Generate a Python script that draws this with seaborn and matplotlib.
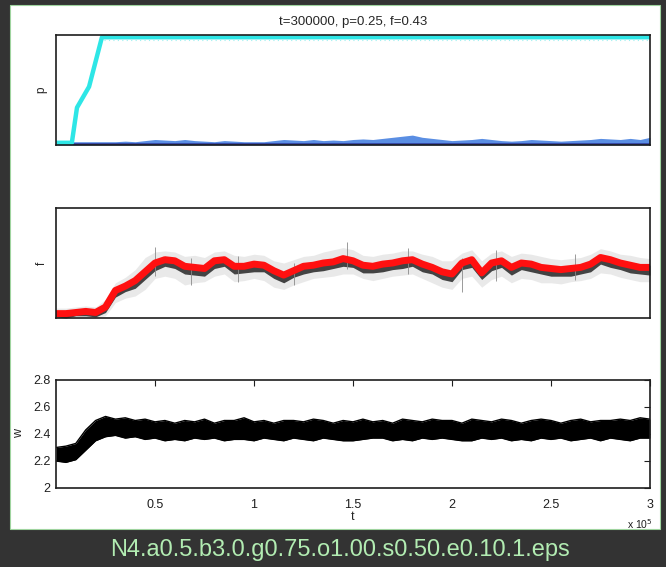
import numpy as np
import pandas as pd
import matplotlib
matplotlib.use("Agg")
import matplotlib.pyplot as plt
import seaborn as sns
from matplotlib.patches import Rectangle

# ---------------- data (time in units of 1e5) ----------------
# population shares p: one strategy takes over, the rest stay near zero
p_cyan_t = [0.0, 0.08, 0.106, 0.167, 0.232, 3.0]
p_cyan = [0.02, 0.02, 0.34, 0.53, 0.98, 0.98]

p_blue_t = np.linspace(0, 3, 61)
p_blue = [0.03, 0.03, 0.03, 0.03, 0.03, 0.03, 0.03, 0.035, 0.03, 0.04,
          0.05, 0.045, 0.04, 0.05, 0.04, 0.035, 0.03, 0.04, 0.035, 0.03,
          0.03, 0.03, 0.04, 0.05, 0.045, 0.04, 0.05, 0.04, 0.045, 0.04,
          0.05, 0.055, 0.05, 0.06, 0.07, 0.08, 0.09, 0.07, 0.06, 0.05,
          0.04, 0.045, 0.05, 0.06, 0.05, 0.04, 0.035, 0.04, 0.05, 0.045,
          0.04, 0.035, 0.04, 0.045, 0.05, 0.06, 0.055, 0.05, 0.06, 0.05,
          0.07]

# f: running mean (red) with spread of the raw samples (black / grey)
f_t = np.linspace(0, 3, 61)
f_mean = [0.04, 0.04, 0.05, 0.06, 0.05, 0.10, 0.25, 0.29, 0.34, 0.42,
          0.50, 0.53, 0.52, 0.47, 0.46, 0.45, 0.52, 0.53, 0.47, 0.47,
          0.49, 0.48, 0.43, 0.39, 0.43, 0.47, 0.48, 0.50, 0.51, 0.54,
          0.52, 0.48, 0.47, 0.49, 0.50, 0.52, 0.53, 0.49, 0.46, 0.42,
          0.40, 0.50, 0.53, 0.41, 0.50, 0.52, 0.46, 0.50, 0.49, 0.46,
          0.45, 0.44, 0.45, 0.46, 0.49, 0.55, 0.53, 0.50, 0.48, 0.46,
          0.46]
f_lo = [0.01, 0.00, 0.02, 0.02, 0.01, 0.05, 0.19, 0.24, 0.27, 0.35,
        0.43, 0.47, 0.45, 0.40, 0.39, 0.38, 0.45, 0.47, 0.40, 0.41,
        0.42, 0.42, 0.36, 0.32, 0.37, 0.40, 0.42, 0.43, 0.45, 0.47,
        0.46, 0.41, 0.41, 0.42, 0.44, 0.45, 0.47, 0.42, 0.40, 0.35,
        0.33, 0.44, 0.46, 0.35, 0.43, 0.46, 0.39, 0.44, 0.42, 0.40,
        0.38, 0.38, 0.38, 0.40, 0.42, 0.49, 0.46, 0.44, 0.41, 0.40,
        0.39]
f_hi = [0.06, 0.06, 0.07, 0.08, 0.07, 0.12, 0.27, 0.31, 0.36, 0.45,
        0.53, 0.56, 0.54, 0.49, 0.48, 0.47, 0.54, 0.55, 0.49, 0.49,
        0.51, 0.50, 0.45, 0.41, 0.45, 0.49, 0.50, 0.52, 0.53, 0.56,
        0.54, 0.50, 0.49, 0.51, 0.52, 0.54, 0.55, 0.51, 0.48, 0.44,
        0.42, 0.52, 0.55, 0.43, 0.52, 0.54, 0.48, 0.52, 0.51, 0.48,
        0.47, 0.46, 0.47, 0.48, 0.51, 0.57, 0.55, 0.52, 0.50, 0.48,
        0.48]
f_gray_lo = [0.00, 0.00, 0.00, 0.00, 0.00, 0.02, 0.14, 0.18, 0.20, 0.26,
             0.36, 0.38, 0.36, 0.30, 0.32, 0.33, 0.38, 0.40, 0.33, 0.34,
             0.36, 0.34, 0.28, 0.26, 0.30, 0.33, 0.36, 0.37, 0.38, 0.40,
             0.40, 0.36, 0.34, 0.36, 0.38, 0.39, 0.40, 0.36, 0.32, 0.28,
             0.26, 0.36, 0.38, 0.28, 0.35, 0.38, 0.32, 0.36, 0.35, 0.32,
             0.32, 0.31, 0.33, 0.34, 0.36, 0.41, 0.40, 0.37, 0.35, 0.33,
             0.33]
f_gray_hi = [0.09, 0.09, 0.10, 0.11, 0.10, 0.17, 0.32, 0.37, 0.44, 0.55,
             0.60, 0.61, 0.60, 0.56, 0.57, 0.55, 0.60, 0.61, 0.57, 0.56,
             0.58, 0.57, 0.52, 0.50, 0.53, 0.56, 0.57, 0.60, 0.62, 0.64,
             0.62, 0.57, 0.56, 0.58, 0.59, 0.61, 0.61, 0.58, 0.56, 0.52,
             0.52, 0.59, 0.62, 0.52, 0.59, 0.61, 0.56, 0.59, 0.58, 0.56,
             0.54, 0.53, 0.54, 0.55, 0.58, 0.63, 0.61, 0.58, 0.57, 0.55,
             0.54]
# isolated excursions of single samples
spike_t = [0.50, 1.47, 2.05, 1.20, 0.92, 0.68, 2.22, 2.62, 1.78]
spike_lo = [0.38, 0.45, 0.24, 0.30, 0.33, 0.30, 0.34, 0.35, 0.40]
spike_hi = [0.65, 0.69, 0.55, 0.50, 0.56, 0.55, 0.62, 0.58, 0.64]

# w: mean payoff band (min / max of the fast oscillation)
w_t = np.linspace(0, 3, 61)
w_hi = [2.30, 2.31, 2.33, 2.43, 2.50, 2.53, 2.51, 2.52, 2.50, 2.51,
        2.49, 2.50, 2.48, 2.50, 2.49, 2.51, 2.48, 2.50, 2.50, 2.52,
        2.49, 2.50, 2.48, 2.50, 2.50, 2.49, 2.51, 2.50, 2.48, 2.50,
        2.49, 2.51, 2.49, 2.50, 2.48, 2.51, 2.50, 2.49, 2.51, 2.50,
        2.50, 2.48, 2.51, 2.50, 2.49, 2.51, 2.50, 2.48, 2.50, 2.51,
        2.50, 2.48, 2.50, 2.51, 2.49, 2.50, 2.50, 2.51, 2.50, 2.52,
        2.51]
w_lo = [2.20, 2.19, 2.21, 2.28, 2.35, 2.38, 2.39, 2.37, 2.38, 2.36,
        2.37, 2.35, 2.36, 2.35, 2.37, 2.36, 2.37, 2.35, 2.36, 2.36,
        2.35, 2.37, 2.36, 2.35, 2.37, 2.36, 2.35, 2.37, 2.36, 2.35,
        2.35, 2.36, 2.37, 2.37, 2.35, 2.36, 2.35, 2.37, 2.36, 2.37,
        2.36, 2.35, 2.35, 2.37, 2.36, 2.37, 2.35, 2.36, 2.35, 2.37,
        2.36, 2.37, 2.35, 2.36, 2.37, 2.35, 2.37, 2.36, 2.35, 2.37,
        2.37]

w_ticks = [2.0, 2.2, 2.4, 2.6, 2.8]
w_ticklabels = ["2", "2.2", "2.4", "2.6", "2.8"]
t_ticks = [0.5, 1.0, 1.5, 2.0, 2.5, 3.0]
t_ticklabels = ["0.5", "1", "1.5", "2", "2.5", "3"]

title_text = "t=300000, p=0.25, f=0.43"
caption_text = "N4.a0.5.b3.0.g0.75.o1.00.s0.50.e0.10.1.eps"

# ---------------- style ----------------
sns.set_style("white")
plt.rcParams["font.family"] = ["Liberation Sans", "DejaVu Sans"]
plt.rcParams["axes.edgecolor"] = "#1e1e1e"
plt.rcParams["axes.linewidth"] = 1.2

W, H = 666, 567
fig = plt.figure(figsize=(W / 100, H / 100), dpi=100, facecolor="#333333")

# white page behind the three panels
fig.patches.append(Rectangle((10 / W, 1 - 529 / H), 650 / W, 524 / H,
                             transform=fig.transFigure, facecolor="white",
                             edgecolor="#9fd49f", linewidth=0.8, zorder=-10))


def px_axes(x0, y0, x1, y1):
    ax = fig.add_axes([x0 / W, 1 - y1 / H, (x1 - x0) / W, (y1 - y0) / H])
    ax.set_facecolor("white")
    ax.set_zorder(5)
    return ax


ax_p = px_axes(56, 35, 650, 145)
ax_f = px_axes(56, 208, 650, 318)
ax_w = px_axes(56, 380, 650, 488)

# ---- p panel ----
ax_p.fill_between(p_blue_t, 0, p_blue, color="#5a8ee3", lw=0)
ax_p.axhline(0.008, color="#2d3596", lw=1.8)
sns.lineplot(x=p_cyan_t, y=p_cyan, ax=ax_p, color="#2ee6e6", lw=3.2)
ax_p.axhline(0.955, xmin=0.08, xmax=1, color="#9ef0f0", lw=0.8, ls=(0, (1, 3)))
ax_p.set_xlim(0, 3)
ax_p.set_ylim(0, 1.0)
ax_p.set_xticks([])
ax_p.set_yticks([])
ax_p.set_ylabel("p", fontsize=8.5, labelpad=6)
ax_p.set_title(title_text, fontsize=9.5, pad=7)

# ---- f panel ----
ax_f.fill_between(f_t, f_gray_lo, f_gray_hi, color="#d4d4d4", alpha=0.5, lw=0)
ax_f.vlines(spike_t, spike_lo, spike_hi, color="#8a8a8a", lw=0.6)
ax_f.fill_between(f_t, f_lo, f_hi, color="#262626", lw=0, alpha=0.85)
sns.lineplot(x=f_t, y=f_mean, ax=ax_f, color="#ff1010", lw=5)
ax_f.set_xlim(0, 3)
ax_f.set_ylim(0, 1.0)
ax_f.set_xticks([])
ax_f.set_yticks([])
ax_f.set_ylabel("f", fontsize=8.5, labelpad=6)

# ---- w panel ----
ax_w.fill_between(w_t, w_lo, w_hi, color="black", lw=0)
sns.lineplot(x=w_t, y=w_hi, ax=ax_w, color="black", lw=1.0)
sns.lineplot(x=w_t, y=w_lo, ax=ax_w, color="black", lw=1.0)
ax_w.set_xlim(0, 3)
ax_w.set_ylim(2.0, 2.8)
ax_w.set_xticks(t_ticks)
ax_w.set_xticklabels(t_ticklabels)
ax_w.set_yticks(w_ticks)
ax_w.set_yticklabels(w_ticklabels)
ax_w.tick_params(direction="in", top=True, right=True, length=4, width=0.8,
                 labelsize=9, colors="#1e1e1e")
ax_w.tick_params(axis="x", pad=8)
ax_w.tick_params(axis="y", pad=4)
ax_w.set_xlabel("t", fontsize=9, labelpad=0)
ax_w.set_ylabel("w", fontsize=9, va="center")
ax_w.yaxis.set_label_coords((19 - 56) / 594, 0.5)

for ax in (ax_p, ax_f, ax_w):
    for s in ax.spines.values():
        s.set_visible(True)

fig.text(640 / W, 1 - 524 / H, r"x 10$^5$", fontsize=7.5, ha="center",
         va="center", color="#1e1e1e")

fig.text(340 / W, 1 - 550 / H, caption_text, fontsize=17, ha="center",
         va="center", color="#b2ecb2")

fig.savefig("out.png", dpi=100, facecolor=fig.get_facecolor())
